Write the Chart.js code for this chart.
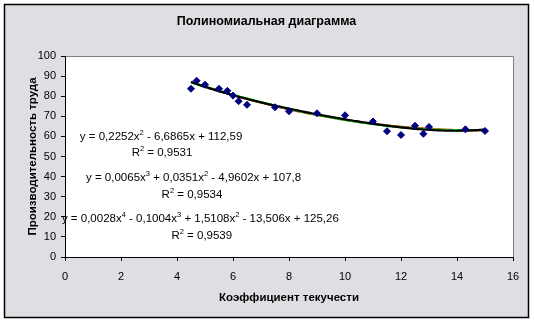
<!DOCTYPE html>
<html>
<head>
<meta charset="utf-8">
<script src="https://cdn.jsdelivr.net/npm/chart.js@4.4.1/dist/chart.umd.min.js"></script>
<style>
  html, body { margin: 0; padding: 0; background: #fff; }
</style>
</head>
<body>
<canvas id="chart" width="534" height="322"></canvas>
<script>
// коэффициент текучести (x) и производительность труда (y)
const turnover = [4.5, 4.7, 5, 5.5, 5.8, 6, 6.2, 6.5, 7.5, 8, 9, 10, 11, 11.5, 12, 12.5, 12.8, 13, 14.3, 15];
const productivity = [83.7, 87.7, 85.7, 83.7, 82.7, 80.3, 77.5, 75.7, 74.5, 72.5, 71.5, 70.5, 67.4, 62.6, 60.7, 65.3, 61.3, 64.7, 63.5, 62.7];

// polynomial trend coefficients, highest power first
// (labels are printed rounded the way Excel shows them)
const poly2 = [0.2252, -6.6865, 112.59];
const poly3 = [0.0065, 0.0351, -4.9602, 107.8];
const poly4 = [0.00276, -0.1004, 1.5108, -13.506, 125.26];
const rSquared = [0.9531, 0.9534, 0.9539];

const xTicks = [0, 2, 4, 6, 8, 10, 12, 14, 16];
const yTicks = [0, 10, 20, 30, 40, 50, 60, 70, 80, 90, 100];

const trends = [
  { coef: poly4, color: '#000000' },
  { coef: poly3, color: '#00ff00' },
  { coef: poly2, color: '#ff0000' },
];

// where the equation labels sit, in axis units (left edge, vertical middle)
const labelSpots = [
  { coef: poly2, eq: [0.53, 59.7], r: [2.38, 51.7], r2: rSquared[0] },
  { coef: poly3, eq: [0.75, 39.3], r: [3.45, 30.8], r2: rSquared[1] },
  { coef: poly4, eq: [-0.11, 18.9], r: [3.8, 10.4], r2: rSquared[2] },
];

const FONT = '"Liberation Sans", Arial, sans-serif';

function evalPoly(coef, x) {
  return coef.reduce((acc, c) => acc * x + c, 0);
}

function trendPoints(coef) {
  const lo = Math.min(...turnover), hi = Math.max(...turnover);
  const pts = [];
  for (let x = lo; x <= hi + 1e-9; x += 0.05) pts.push({ x, y: evalPoly(coef, x) });
  return pts;
}

// 4 decimals, at most 5 significant digits, decimal comma
function fmt(v) {
  const a = Math.abs(v);
  let dec = 4;
  if (a >= 1) dec = Math.max(0, Math.min(4, 5 - (Math.floor(Math.log10(a)) + 1)));
  let s = a.toFixed(dec);
  if (s.indexOf('.') >= 0) s = s.replace(/0+$/, '').replace(/\.$/, '');
  return s.replace('.', ',');
}

function eqParts(coef) {
  const deg = coef.length - 1;
  const parts = [];
  coef.forEach((c, i) => {
    const p = deg - i;
    let s = i === 0 ? 'y = ' + (c < 0 ? '-' : '') : (c < 0 ? ' - ' : ' + ');
    s += fmt(c);
    if (p > 0) s += 'x';
    parts.push({ text: s });
    if (p > 1) parts.push({ sup: String(p) });
  });
  return parts;
}

function drawParts(ctx, x, y, parts) {
  parts.forEach(p => {
    if (p.sup) {
      ctx.font = '7.5px ' + FONT;
      ctx.fillText(p.sup, x, y - 4);
      x += ctx.measureText(p.sup).width;
    } else {
      ctx.font = '11.5px ' + FONT;
      ctx.fillText(p.text, x, y);
      x += ctx.measureText(p.text).width;
    }
  });
}

const frame = {
  id: 'frame',
  beforeDraw(chart) {
    const { ctx, chartArea: a, width, height } = chart;
    ctx.save();
    ctx.fillStyle = '#ffffff';
    ctx.fillRect(0, 0, width, height);
    ctx.fillStyle = '#dfdfe3';
    ctx.fillRect(4, 4, 525, 314);
    ctx.strokeStyle = '#000000';
    ctx.lineWidth = 1.5;
    ctx.strokeRect(4.5, 4.5, 524, 313);
    ctx.fillStyle = '#ffffff';
    ctx.fillRect(a.left, a.top, a.right - a.left, a.bottom - a.top);
    ctx.strokeStyle = '#808080';
    ctx.lineWidth = 1;
    ctx.beginPath();
    ctx.moveTo(a.left, a.top + 0.5);
    ctx.lineTo(a.right + 0.5, a.top + 0.5);
    ctx.lineTo(a.right + 0.5, a.bottom);
    ctx.stroke();
    ctx.restore();
  },
  afterDatasetsDraw(chart) {
    const { ctx, scales: { x, y } } = chart;
    ctx.save();
    ctx.fillStyle = '#000000';
    ctx.textBaseline = 'middle';
    ctx.textAlign = 'left';
    labelSpots.forEach(s => {
      drawParts(ctx, x.getPixelForValue(s.eq[0]), y.getPixelForValue(s.eq[1]), eqParts(s.coef));
      drawParts(ctx, x.getPixelForValue(s.r[0]), y.getPixelForValue(s.r[1]),
        [{ text: 'R' }, { sup: '2' }, { text: ' = ' + fmt(s.r2) }]);
    });
    ctx.restore();
  }
};

const datasets = [{
  data: turnover.map((v, i) => ({ x: v, y: productivity[i] })),
  pointStyle: 'rectRot',
  pointRadius: 3.5,
  backgroundColor: '#000080',
  borderColor: '#000080',
  borderWidth: 1,
  showLine: false,
}];
trends.forEach(t => datasets.push({
  data: trendPoints(t.coef),
  showLine: true,
  pointRadius: 0,
  borderColor: t.color,
  borderWidth: 2.2,
  tension: 0,
}));

new Chart(document.getElementById('chart'), {
  type: 'scatter',
  data: { datasets },
  plugins: [frame],
  options: {
    responsive: false,
    animation: false,
    devicePixelRatio: 1,
    layout: { padding: { left: 20, right: 21, top: 0, bottom: 15 } },
    plugins: {
      legend: { display: false },
      tooltip: { enabled: false },
      title: {
        display: true,
        text: 'Полиномиальная диаграмма',
        color: '#000000',
        font: { family: FONT, size: 12.5, weight: 'bold' },
        padding: { top: 14.5, bottom: 26.5 },
      },
    },
    scales: {
      x: {
        type: 'linear',
        min: 0, max: 16,
        afterBuildTicks: s => { s.ticks = xTicks.map(v => ({ value: v })); },
        afterFit: s => { s.height = 50; },
        grid: { drawOnChartArea: false, color: '#000000', tickLength: 4 },
        border: { color: '#000000', width: 1 },
        ticks: { color: '#000000', padding: 9, maxRotation: 0, font: { family: FONT, size: 11 } },
        title: {
          display: true,
          text: 'Коэффициент текучести',
          color: '#000000',
          font: { family: FONT, size: 11.5, weight: 'bold' },
          padding: { top: 0, bottom: 2 },
        },
      },
      y: {
        type: 'linear',
        min: 0, max: 100,
        afterBuildTicks: s => { s.ticks = yTicks.map(v => ({ value: v })); },
        afterFit: s => { s.width = 45; },
        grid: { drawOnChartArea: false, color: '#000000', tickLength: 4 },
        border: { color: '#000000', width: 1 },
        ticks: { color: '#000000', padding: 5, font: { family: FONT, size: 11 } },
        title: {
          display: true,
          text: 'Производительность труда',
          color: '#000000',
          font: { family: FONT, size: 11.5, weight: 'bold' },
          padding: { top: 6, bottom: 0 },
        },
      },
    },
  },
});
</script>
</body>
</html>
